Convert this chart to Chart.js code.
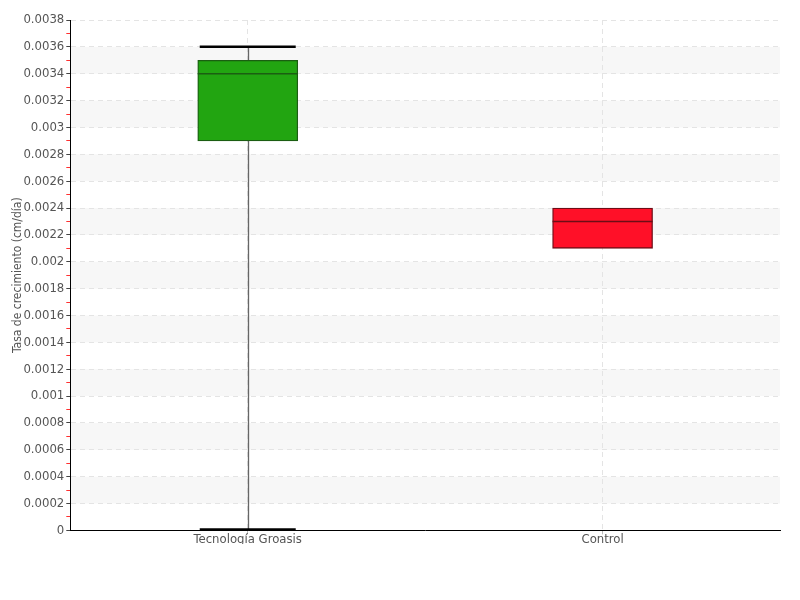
<!DOCTYPE html>
<html>
<head>
<meta charset="utf-8">
<script src="https://cdn.jsdelivr.net/npm/chart.js@4/dist/chart.umd.min.js"></script>
<style>
  html, body { margin: 0; padding: 0; background: #fff; }
  #wrap { width: 800px; height: 600px; }
</style>
</head>
<body>
<div id="wrap"><canvas id="myChart"></canvas></div>
<script>
// box plot data
var groups = ['Tecnología Groasis', 'Control'];
var mins = [0, 0.0021];
var q1s = [0.0029, 0.0021];
var medians = [0.0034, 0.0023];
var q3s = [0.0035, 0.0024];
var maxs = [0.0036, 0.0024];
var fill_colors = ['#22a511', '#ff1028'];
var line_colors = ['#1b5e12', '#6e0d16'];

var y_min = 0, y_max = 0.0038, y_step = 0.0001;

var font_name = "'DejaVu Sans Condensed', 'Liberation Sans Narrow', sans-serif";

function is_major(v) {
    return Math.round(v / y_step) % 2 === 0;
}

var boxes = [];
for (i = 0; i < groups.length; i++) {
    boxes.push([q1s[i], q3s[i]]);
}

const bands_plugin = {
    id: 'bands',
    beforeDraw: (chart) => {
        const ctx = chart.ctx;
        const y = chart.scales.y;
        const area = chart.chartArea;
        ctx.save();
        ctx.fillStyle = '#f7f7f7';
        for (v = 0.0002; v < y_max - 0.0001; v += 0.0004) {
            var top = y.getPixelForValue(v + 0.0002);
            var bot = y.getPixelForValue(v);
            ctx.fillRect(area.left, top, area.right - area.left, bot - top);
        }
        ctx.restore();
    }
};

const whisker_plugin = {
    id: 'whiskers',
    beforeDatasetsDraw: (chart) => {
        const ctx = chart.ctx;
        const y = chart.scales.y;
        const meta = chart.getDatasetMeta(0);
        ctx.save();
        ctx.strokeStyle = '#666';
        ctx.lineWidth = 1.3;
        for (i = 0; i < groups.length; i++) {
            var x = Math.round(meta.data[i].x) + 0.5;
            if (maxs[i] > q3s[i] || mins[i] < q1s[i]) {
                ctx.beginPath();
                ctx.moveTo(x, y.getPixelForValue(maxs[i]));
                ctx.lineTo(x, y.getPixelForValue(mins[i]));
                ctx.stroke();
            }
        }
        ctx.restore();
    },
    afterDatasetsDraw: (chart) => {
        const ctx = chart.ctx;
        const y = chart.scales.y;
        const meta = chart.getDatasetMeta(0);
        ctx.save();
        for (i = 0; i < groups.length; i++) {
            var bar = meta.data[i];
            var half = bar.width / 2;
            // median
            ctx.strokeStyle = line_colors[i];
            ctx.lineWidth = 1.5;
            ctx.beginPath();
            ctx.moveTo(bar.x - half, y.getPixelForValue(medians[i]));
            ctx.lineTo(bar.x + half, y.getPixelForValue(medians[i]));
            ctx.stroke();
            // caps
            ctx.strokeStyle = '#000';
            ctx.lineWidth = 2.5;
            if (maxs[i] > q3s[i]) {
                ctx.beginPath();
                ctx.moveTo(bar.x - half + 2, y.getPixelForValue(maxs[i]));
                ctx.lineTo(bar.x + half - 2, y.getPixelForValue(maxs[i]));
                ctx.stroke();
            }
            if (mins[i] < q1s[i]) {
                ctx.beginPath();
                ctx.moveTo(bar.x - half + 2, y.getPixelForValue(mins[i]) - 1);
                ctx.lineTo(bar.x + half - 2, y.getPixelForValue(mins[i]) - 1);
                ctx.stroke();
            }
        }
        ctx.restore();
    }
};

var the_chart_canvas = document.getElementById('myChart').getContext('2d');
var myChart = new Chart(the_chart_canvas, {
    type: 'bar',
    data: {
        labels: groups,
        datasets: [{
            data: boxes,
            backgroundColor: fill_colors,
            borderColor: line_colors,
            borderWidth: 1.3,
            borderSkipped: false,
            barThickness: 100
        }]
    },
    options: {
        responsive: true,
        maintainAspectRatio: false,
        animation: false,
        layout: { padding: { left: 3, top: 20, right: 20, bottom: 56 } },
        plugins: {
            legend: { display: false },
            tooltip: { enabled: false }
        },
        scales: {
            x: {
                grid: {
                    offset: false,
                    color: '#e4e4e4',
                    tickColor: '#bbb',
                    tickLength: 4
                },
                border: { color: '#000', width: 1, dash: [5, 4] },
                ticks: {
                    color: '#555',
                    padding: -3,
                    font: { family: font_name, size: 13 }
                }
            },
            y: {
                min: y_min,
                max: y_max,
                grid: {
                    color: (c) => is_major(c.tick.value) ? '#e4e4e4' : 'rgba(0,0,0,0)',
                    tickColor: (c) => is_major(c.tick.value) ? '#444' : '#ff3030',
                    tickLength: 4
                },
                border: { color: '#000', width: 1, dash: [5, 4] },
                ticks: {
                    stepSize: y_step,
                    autoSkip: false,
                    color: '#555',
                    padding: 2,
                    font: { family: font_name, size: 13 },
                    callback: function (value) {
                        if (!is_major(value)) return '';
                        return parseFloat(value.toFixed(4)).toString();
                    }
                },
                title: {
                    display: true,
                    text: 'Tasa de crecimiento (cm/día)',
                    color: '#555',
                    padding: { top: 8, bottom: -4 },
                    font: { family: font_name, size: 12 }
                }
            }
        }
    },
    plugins: [bands_plugin, whisker_plugin]
});
</script>
</body>
</html>
